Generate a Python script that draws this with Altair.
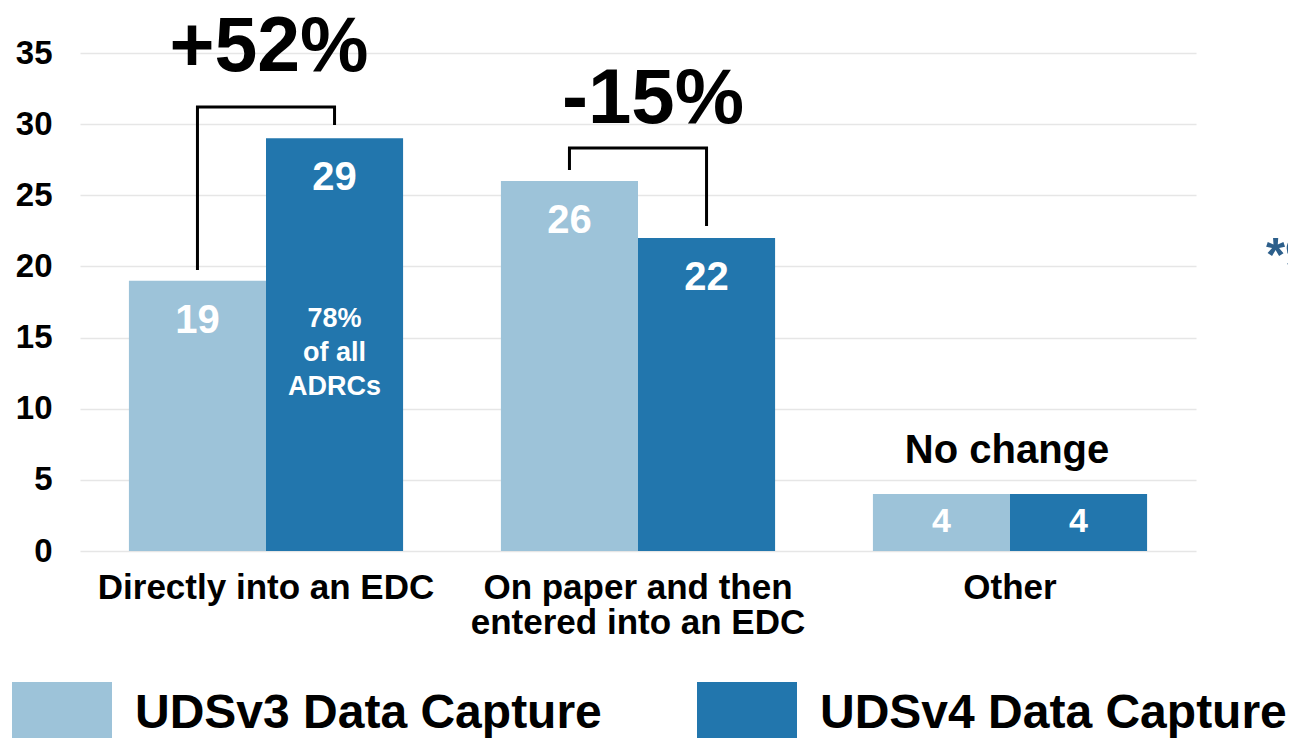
import altair as alt
import pandas as pd

categories = ["Directly into an EDC", "On paper and then entered into an EDC", "Other"]
series = ["UDSv3 Data Capture", "UDSv4 Data Capture"]
v3_values = [19, 26, 4]
v4_values = [29, 22, 4]
colors = ["#9dc3d9", "#2276ad"]

inner_note = "78%\nof all\nADRCs"
inner_note_y = 16.3

change_labels = ["+52%", "-15%", "No change"]
change_y = [35.32, 31.73, 7.03]

bracket_id = [1, 1, 1, 1, 2, 2, 2, 2]
bracket_cat = [categories[0]] * 4 + [categories[1]] * 4
bracket_series = [series[0], series[0], series[1], series[1]] * 2
bracket_y = [19.75, 31.2, 31.2, 29.94, 26.78, 28.32, 28.32, 22.84]
bracket_order = [0, 1, 2, 3] * 2

side_note = "*9"
side_note_y = 20.7

FONT = "Liberation Sans"

bars_df = pd.DataFrame({
    "cat": categories * 2,
    "series": [series[0]] * 3 + [series[1]] * 3,
    "value": v3_values + v4_values,
})
bracket_df = pd.DataFrame({
    "bid": bracket_id, "cat": bracket_cat, "series": bracket_series,
    "value": bracket_y, "ord": bracket_order,
})

label_expr = ("datum.label == 'On paper and then entered into an EDC' ? "
              "['On paper and then', 'entered into an EDC'] : datum.label")

x = alt.X("cat:N", sort=categories,
          scale=alt.Scale(domain=categories, paddingInner=0.263, paddingOuter=0.1315),
          axis=alt.Axis(title=None, labelAngle=0, labelFontSize=35, labelFont=FONT,
                        labelFontWeight="bold", labelColor="black", labelPadding=19,
                        labelLineHeight=35, ticks=False, domain=False, grid=False,
                        labelExpr=label_expr, labelLimit=600))
xo = alt.XOffset("series:N", sort=series,
                 scale=alt.Scale(domain=series, paddingInner=0, paddingOuter=0))
y = alt.Y("value:Q", scale=alt.Scale(domain=[0, 35], nice=False),
          axis=alt.Axis(title=None, values=list(range(0, 36, 5)), labelFontSize=33,
                        labelFont=FONT, labelFontWeight="bold", labelColor="black",
                        labelPadding=28, ticks=False, domain=False,
                        gridColor="#e6e6e6", gridWidth=1.5))
color = alt.Color("series:N", sort=series,
                  scale=alt.Scale(domain=series, range=colors),
                  legend=alt.Legend(title=None, orient="none", legendX=-68, legendY=611,
                                    direction="horizontal",
                                    symbolType="M-1,-0.64L1,-0.64L1,0.9L-1,0.9Z",
                                    symbolSize=10000, symbolStrokeWidth=0,
                                    symbolOpacity=1, labelFontSize=48, labelFont=FONT,
                                    labelFontWeight="bold", labelColor="black",
                                    labelOffset=23, columnPadding=95, labelLimit=1000,
                                    padding=0))

base = alt.Chart(bars_df)
bars = base.mark_bar().encode(x=x, xOffset=xo, y=y, color=color)

big_text = base.transform_filter("datum.value >= 10").mark_text(
    font=FONT, fontWeight="bold", fontSize=40, color="white", baseline="middle", dy=40
).encode(x=x, xOffset=xo, y=y, text="value:Q")
small_text = base.transform_filter("datum.value < 10").mark_text(
    font=FONT, fontWeight="bold", fontSize=34, color="white", baseline="middle", dy=28
).encode(x=x, xOffset=xo, y=y, text="value:Q")

note_df = pd.DataFrame({"cat": [categories[0]], "series": [series[1]],
                        "value": [inner_note_y], "txt": [inner_note]})
note = alt.Chart(note_df).mark_text(
    font=FONT, fontWeight="bold", fontSize=27, color="white", baseline="middle",
    lineBreak="\n", lineHeight=34
).encode(x=x, xOffset=xo, y=y, text="txt:N")

brackets = alt.Chart(bracket_df).mark_line(color="black", strokeWidth=3).encode(
    x=x, xOffset=xo, y=y, detail="bid:N", order="ord:Q")

ann_layers = []
ann_sizes = [77, 78, 40]
ann_dx = [3, 15, -3]
for i in range(3):
    d = pd.DataFrame({"cat": [categories[i]], "value": [change_y[i]], "txt": [change_labels[i]]})
    ann_layers.append(alt.Chart(d).mark_text(
        font=FONT, fontWeight="bold", fontSize=ann_sizes[i], color="black",
        baseline="middle", dx=ann_dx[i]
    ).encode(x=x, y=y, text="txt:N"))

side_df = pd.DataFrame({"value": [side_note_y], "txt": [side_note]})
side = alt.Chart(side_df).mark_text(
    font=FONT, fontWeight="bold", fontSize=49, color="#2d5f8b", baseline="middle",
    align="left"
).encode(x=alt.value(1186), y=y, text="txt:N")

chart = alt.layer(bars, big_text, small_text, note, brackets, *ann_layers, side).properties(
    width=1116, height=498,
    autosize=alt.AutoSizeParams(type="none"),
    padding={"left": 72, "top": 45, "right": 92, "bottom": 187},
).configure_view(stroke=None)

chart.save("out.html", embed_options={"renderer": "svg", "actions": False})
